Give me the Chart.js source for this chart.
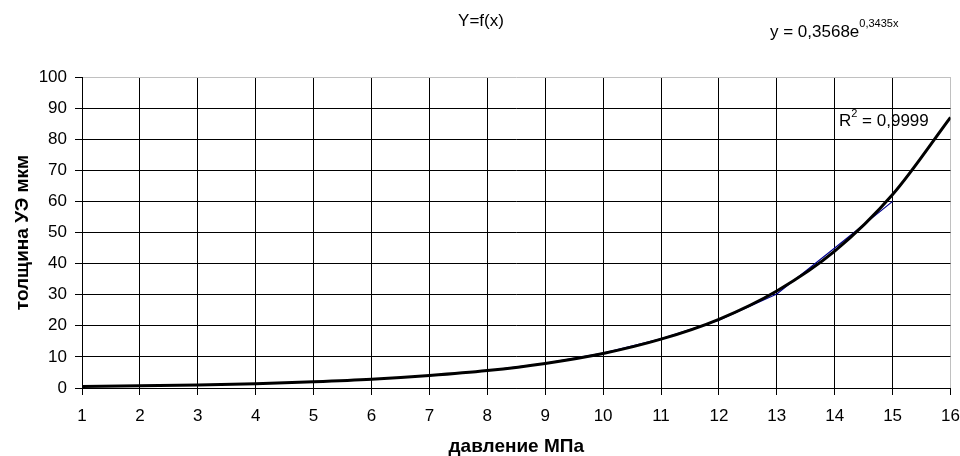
<!DOCTYPE html>
<html>
<head>
<meta charset="utf-8">
<script src="https://cdn.jsdelivr.net/npm/chart.js@4.4.0/dist/chart.umd.min.js"></script>
<style>
  html, body { margin: 0; padding: 0; background: #fff; }
  #wrap { width: 960px; height: 456px; }
</style>
</head>
<body>
<div id="wrap"><canvas id="myChart" width="960" height="456"></canvas></div>
<script>
// pressure, MPa (x)
const pressure = [1, 2, 3, 4, 5, 6, 7, 8, 9, 10, 11, 12, 13, 14, 15, 16];
// measured thickness, um (blue series, x = 1..15)
const thickness = [0.5, 0.8, 1.0, 1.4, 2.0, 2.8, 4.0, 5.6, 7.9, 11.2, 15.8, 21.8, 30.2, 45.0, 60.0];
// exponential trendline (x = 1..16)
const trend = [0.5, 0.7, 1.0, 1.4, 2.0, 2.8, 4.0, 5.6, 7.9, 11.1, 15.7, 22.1, 31.2, 44.0, 62.2, 87.0];
const yTicks = [0, 10, 20, 30, 40, 50, 60, 70, 80, 90, 100];

const FONT = "'Liberation Sans', Arial, sans-serif";

// text labels drawn over the plot (trendline equation and R^2)
const trendLabels = {
  id: 'trendLabels',
  afterDraw(chart) {
    const ctx = chart.ctx;
    ctx.save();
    ctx.fillStyle = '#000';
    ctx.textBaseline = 'middle';
    ctx.textAlign = 'left';
    // equation
    ctx.font = '17px ' + FONT;
    let x = 770;
    ctx.fillText('y = 0,3568e', x, 32);
    x += ctx.measureText('y = 0,3568e').width;
    ctx.font = '11px ' + FONT;
    ctx.fillText('0,3435x', x, 24);
    // R squared
    ctx.font = '17px ' + FONT;
    x = 839;
    ctx.fillText('R', x, 121);
    x += ctx.measureText('R').width;
    ctx.font = '11px ' + FONT;
    ctx.fillText('2', x, 114);
    x += ctx.measureText('2').width;
    ctx.font = '17px ' + FONT;
    ctx.fillText(' = 0,9999', x, 121);
    ctx.restore();
  }
};

const ctx = document.getElementById('myChart').getContext('2d');
new Chart(ctx, {
  type: 'line',
  data: {
    datasets: [
      {
        label: 'trend',
        data: pressure.map((p, i) => ({ x: p, y: trend[i] })),
        borderColor: '#000',
        borderWidth: 3,
        pointRadius: 0,
        cubicInterpolationMode: 'monotone',
        fill: false,
        order: 0
      },
      {
        label: 'Y',
        data: thickness.map((t, i) => ({ x: pressure[i], y: t })),
        borderColor: '#000090',
        borderWidth: 1.2,
        pointRadius: 0,
        tension: 0,
        fill: false,
        order: 1
      }
    ]
  },
  options: {
    responsive: false,
    animation: false,
    layout: { padding: { left: 5.5, right: 3.5, top: 0, bottom: 0 } },
    plugins: {
      legend: { display: false },
      tooltip: { enabled: false },
      title: {
        display: true,
        text: 'Y=f(x)',
        color: '#000',
        font: { family: FONT, size: 17, weight: 'normal' },
        padding: { top: 11, bottom: 45.6 }
      }
    },
    scales: {
      x: {
        type: 'linear',
        min: 1,
        max: 16,
        afterFit: s => { s.height = 68; s.paddingRight = 9.5; s.paddingLeft = 0; },
        afterBuildTicks: s => { s.ticks = pressure.map(v => ({ value: v })); },
        ticks: { color: '#000', font: { family: FONT, size: 17 }, padding: 11, maxRotation: 0 },
        grid: {
          color: c => (c.tick && c.tick.value === 16 ? '#c0c0c0' : '#000'),
          tickColor: '#000',
          tickLength: 7,
          lineWidth: 1
        },
        border: { color: '#000', width: 1 },
        title: {
          display: true,
          text: 'давление МПа',
          color: '#000',
          font: { family: FONT, size: 19, weight: 'bold', lineHeight: 1 },
          padding: 0
        }
      },
      y: {
        min: 0,
        max: 100,
        afterFit: s => { s.width = 76.5; },
        afterBuildTicks: s => { s.ticks = yTicks.map(v => ({ value: v })); },
        ticks: { color: '#000', font: { family: FONT, size: 17 }, padding: 8 },
        grid: {
          color: c => (c.tick && c.tick.value === 100 ? '#c0c0c0' : '#000'),
          tickColor: '#000',
          tickLength: 7,
          lineWidth: 1
        },
        border: { color: '#000', width: 1 },
        title: {
          display: true,
          text: 'толщина УЭ мкм',
          color: '#000',
          font: { family: FONT, size: 19, weight: 'bold', lineHeight: 1 },
          padding: { top: 8, bottom: 0 }
        }
      }
    }
  },
  plugins: [trendLabels]
});
</script>
</body>
</html>
